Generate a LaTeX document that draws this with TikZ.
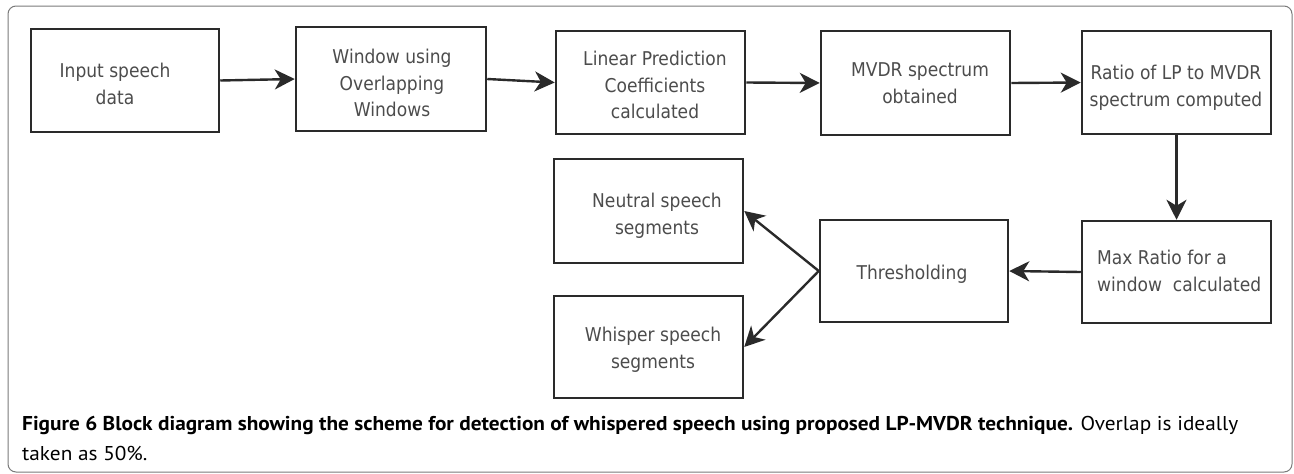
\documentclass[tikz,border=0pt]{standalone}
\usepackage{fontspec}
\usepackage{graphicx}
\usetikzlibrary{arrows.meta}
\newfontfamily\diagfont[FakeStretch=0.9]{DejaVu Sans}
\newfontfamily\capfont{PT Sans}
\definecolor{boxline}{HTML}{2A2A2A}
\definecolor{txtgray}{HTML}{4C4C4C}
\definecolor{framegray}{HTML}{7A7A7A}
\newlength\capw
\tikzset{
  box/.style={draw=boxline, line width=2.5pt, inner sep=0pt},
  txt/.style={text=txtgray, inner sep=0pt, align=center,
    font={\diagfont\fontsize{19}{26.5}\selectfont}},
  txtl/.style={txt, align=left},
  arr/.style={draw=boxline, line width=2.4pt,
    -{Stealth[length=20pt,width=20pt,inset=6pt]}},
  captext/.style={inner sep=0pt, anchor=base west,
    font={\capfont\fontsize{20}{24}\selectfont}}
}
\begin{document}
\settowidth\capw{\capfont\fontsize{20}{24}\selectfont\textbf{Figure 6 Block diagram showing the scheme for detection of whispered speech using proposed LP-MVDR technique.} Overlap is ideally}
\pgfmathsetmacro\capfac{1216/\capw}
\xdef\capfac{\capfac}
\begin{tikzpicture}[x=1pt,y=-1pt]
\useasboundingbox (0,0) rectangle (1294,474);
\draw[framegray, line width=1pt, rounded corners=8pt] (8,6) rectangle (1292,472);
% boxes
\node[box, minimum width=188pt, minimum height=103pt] (b1) at (125,80.5) {};
\node[box, minimum width=190pt, minimum height=104pt] (b2) at (391,79) {};
\node[box, minimum width=189pt, minimum height=103pt] (b3) at (650.5,82.5) {};
\node[box, minimum width=189pt, minimum height=104pt] (b4) at (915.5,83) {};
\node[box, minimum width=189pt, minimum height=103pt] (b5) at (1176.5,82.5) {};
\node[box, minimum width=189pt, minimum height=102pt] (b6) at (1176.5,272) {};
\node[box, minimum width=188pt, minimum height=102pt] (b7) at (914,271) {};
\node[box, minimum width=189pt, minimum height=104pt] (b8) at (648.5,211) {};
\node[box, minimum width=189pt, minimum height=102pt] (b9) at (648.5,347) {};
% texts
\node[txt] (t1) at (115,84) {Input speech\\data};
\node[txt] (t2) at (392,83) {Window using\\Overlapping\\Windows};
\node[txt] (t3) at (655,85) {Linear Prediction\\Coefficients\\calculated};
\node[txt] (t4) at (920,83) {MVDR spectrum\\obtained};
\node[txt] (t5) at (1176,88) {Ratio of LP to MVDR\\spectrum computed};
\node[txtl, anchor=west] (t6) at (1097,271) {Max Ratio for a\\window\ \ calculated};
\node[txt] (t7) at (912,274) {Thresholding};
\node[txt] (t8) at (657,216) {Neutral speech\\segments};
\node[txt] (t9) at (653,350) {Whisper speech\\segments};
% arrows
\draw[arr] (b1.east) -- (b2.west);
\draw[arr] (b2.east) -- (b3.west);
\draw[arr] (b3.east) -- (b4.west);
\draw[arr] (b4.east) -- (b5.west);
\draw[arr] (b5.south) -- (b6.north);
\draw[arr] (b6.west) -- (b7.east);
\draw[arr] (b7.west) -- (b8.east);
\draw[arr] (b7.west) -- (b9.east);
% caption
\node[captext] (cap1) at (22,430) {\scalebox{\capfac}[1]{\textbf{Figure 6 Block diagram showing the scheme for detection of whispered speech using proposed LP-MVDR technique.} Overlap is ideally}};
\node[captext] (cap2) at (22,460) {\scalebox{\capfac}[1]{taken as 50\%.}};
\end{tikzpicture}
\end{document}
